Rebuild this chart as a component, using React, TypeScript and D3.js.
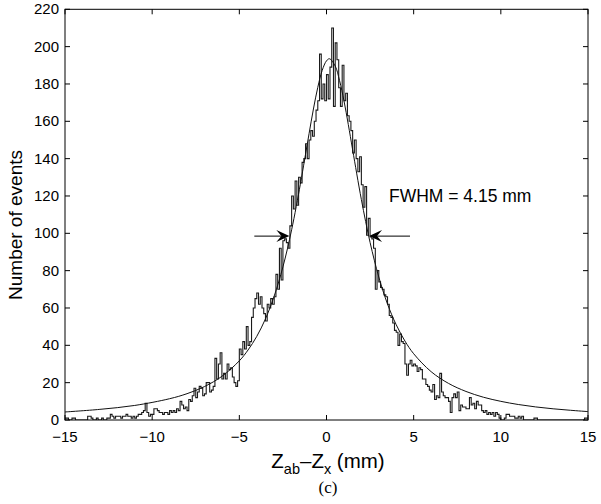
import React from "react";
import * as d3 from "d3";

// Histogram: 300 bins of 0.1 mm from -15 to 15 mm
const binStart = -15;
const binWidth = 0.1;
const counts: number[] = [
  // -15 .. -14
  1, 1, 0, 0, 1, 1, 0, 0, 0, 0,
  // -14 .. -13
  0, 0, 0, 2, 2, 1, 0, 0, 1, 0,
  // -13 .. -12
  0, 1, 0, 0, 1, 1, 3, 2, 1, 2,
  // -12 .. -11
  2, 2, 1, 2, 2, 3, 2, 2, 1, 2,
  // -11 .. -10
  1, 2, 3, 3, 4, 5, 9, 4, 2, 3,
  // -10 .. -9
  3, 6, 6, 5, 4, 4, 3, 4, 4, 3,
  // -9 .. -8
  5, 4, 5, 4, 6, 5, 10, 8, 6, 7,
  // -8 .. -7
  5, 11, 10, 13, 17, 12, 15, 18, 17, 13,
  // -7 .. -6
  14, 20, 20, 15, 16, 18, 33, 22, 30, 36,
  // -6 .. -5
  22, 25, 22, 30, 27, 28, 23, 20, 18, 21,
  // -5 .. -4
  38, 35, 42, 38, 50, 40, 42, 55, 60, 65,
  // -4 .. -3
  68, 62, 66, 60, 57, 53, 62, 60, 65, 62,
  // -3 .. -2
  66, 78, 70, 92, 75, 96, 97, 95, 92, 104,
  // -2 .. -1
  120, 113, 128, 115, 130, 127, 138, 140, 148, 140,
  // -1 .. 0
  150, 155, 152, 160, 166, 171, 196, 172, 180, 171,
  // 0 .. 1
  185, 172, 189, 210, 168, 202, 193, 178, 168, 190,
  // 1 .. 2
  171, 175, 163, 160, 155, 143, 150, 140, 133, 141,
  // 2 .. 3
  126, 114, 125, 99, 108, 98, 97, 92, 70, 80,
  // 3 .. 4
  74, 71, 70, 67, 66, 62, 56, 55, 52, 48,
  // 4 .. 5
  47, 40, 46, 42, 41, 30, 24, 30, 32, 29,
  // 5 .. 6
  30, 29, 26, 28, 27, 22, 22, 19, 18, 16,
  // 6 .. 7
  15, 19, 11, 13, 12, 25, 15, 13, 12, 12,
  // 7 .. 8
  10, 4, 12, 14, 12, 15, 5, 8, 7, 7,
  // 8 .. 9
  6, 6, 12, 8, 9, 6, 10, 8, 8, 5,
  // 9 .. 10
  4, 5, 3, 4, 3, 4, 2, 4, 3, 1,
  // 10 .. 11
  0, 0, 1, 3, 3, 2, 2, 2, 1, 1,
  // 11 .. 12
  2, 1, 2, 0, 0, 0, 0, 0, 0, 1,
  // 12 .. 13
  1, 0, 0, 0, 0, 0, 0, 0, 0, 0,
  // 13 .. 14
  0, 0, 0, 0, 0, 0, 0, 0, 0, 0,
  // 14 .. 15
  0, 0, 0, 0, 0, 0, 0, 0, 1, 1,
];

// Fitted curve
const fitX = [-15, -13, -11, -9, -8, -7, -6, -5, -4.5, -4, -3.5, -3, -2.5, -2, -1.5, -1.25, -1, -0.75, -0.5, -0.25, 0, 0.17, 0.5, 0.75, 1, 1.25, 1.5, 2, 2.5, 3, 3.5, 4, 4.5, 5, 6, 7, 8, 9, 10, 11, 12, 13, 14, 15];
const fitY = [4.3, 5.7, 7.8, 11.4, 14.1, 17.9, 23.4, 31.7, 37.5, 44.8, 54.2, 66.4, 82.0, 101.9, 126.3, 139.8, 153.4, 166.6, 178.2, 187.2, 192.4, 193.5, 189.6, 181.8, 171.1, 158.3, 144.7, 118.1, 95.1, 76.6, 62.1, 51.0, 42.3, 35.5, 25.9, 19.6, 15.3, 12.2, 10.0, 8.3, 7.0, 6.0, 5.2, 4.5];

// Axis ticks
const xTicks = [-15, -10, -5, 0, 5, 10, 15];
const yTicks = [0, 20, 40, 60, 80, 100, 120, 140, 160, 180, 200, 220];

// FWHM annotation
const fwhmLabel = "FWHM = 4.15 mm";
const arrowLevel = 98.5;
const leftArrow = [-4.14, -2.13]; // from, to
const rightArrow = [4.79, 2.44]; // from, to

const W = 601;
const H = 504;
const M = { left: 65, right: 588, top: 9.3, bottom: 420 };
const FONT = "'Liberation Sans', Arial, Helvetica, sans-serif";

export default function App() {
  const x = d3.scaleLinear().domain([-15, 15]).range([M.left, M.right]);
  const y = d3.scaleLinear().domain([0, 220]).range([M.bottom, M.top]);

  const stepPts: [number, number][] = counts.map((c, i) => [binStart + i * binWidth, c]);
  stepPts.push([binStart + counts.length * binWidth, counts[counts.length - 1]]);
  const histPath =
    d3
      .line<[number, number]>()
      .x((d) => x(d[0]))
      .y((d) => y(d[1]))
      .curve(d3.curveStepAfter)(stepPts) || "";

  const fitPts: [number, number][] = fitX.map((v, i) => [v, fitY[i]]);
  const fitPath =
    d3
      .line<[number, number]>()
      .x((d) => x(d[0]))
      .y((d) => y(d[1]))
      .curve(d3.curveCatmullRom)(fitPts) || "";

  const tick = 5;
  const arrowHead = (tipX: number, tipY: number, dir: number) => {
    const L = 13;
    const hw = 6;
    const notch = 8;
    return `M${tipX},${tipY} L${tipX - dir * L},${tipY - hw} L${tipX - dir * notch},${tipY} L${tipX - dir * L},${tipY + hw} Z`;
  };
  const ay = y(arrowLevel);

  return (
    <svg
      width={W}
      height={H}
      style={{ position: "absolute", left: 0, top: 0, background: "#fff" }}
    >
      <rect x={0} y={0} width={W} height={H} fill="#fff" />
      <defs>
        <clipPath id="plotclip">
          <rect x={M.left} y={M.top} width={M.right - M.left} height={M.bottom - M.top} />
        </clipPath>
      </defs>

      {/* histogram */}
      <path d={histPath} fill="none" stroke="#1a1a1a" strokeWidth={1.1} clipPath="url(#plotclip)" />
      {/* fit curve */}
      <path d={fitPath} fill="none" stroke="#111" strokeWidth={1} clipPath="url(#plotclip)" />

      {/* frame */}
      <rect
        x={M.left}
        y={M.top}
        width={M.right - M.left}
        height={M.bottom - M.top}
        fill="none"
        stroke="#000"
        strokeWidth={1}
      />

      {/* x ticks */}
      {xTicks.map((t) => (
        <g key={"xt" + t}>
          <line x1={x(t)} x2={x(t)} y1={M.bottom} y2={M.bottom - tick} stroke="#000" />
          <line x1={x(t)} x2={x(t)} y1={M.top} y2={M.top + tick} stroke="#000" />
          <text
            x={x(t)}
            y={442}
            textAnchor="middle"
            fontFamily={FONT}
            fontSize={15}
            fill="#000"
          >
            {t < 0 ? "\u2212" + Math.abs(t) : String(t)}
          </text>
        </g>
      ))}

      {/* y ticks */}
      {yTicks.map((t) => (
        <g key={"yt" + t}>
          <line x1={M.left} x2={M.left + tick} y1={y(t)} y2={y(t)} stroke="#000" />
          <line x1={M.right} x2={M.right - tick} y1={y(t)} y2={y(t)} stroke="#000" />
          <text
            x={59}
            y={y(t)}
            dy="0.34em"
            textAnchor="end"
            fontFamily={FONT}
            fontSize={15}
            fill="#000"
          >
            {String(t)}
          </text>
        </g>
      ))}

      {/* y label */}
      <text
        transform={`translate(22,225) rotate(-90)`}
        textAnchor="middle"
        fontFamily={FONT}
        fontSize={19}
        fill="#000"
      >
        Number of events
      </text>

      {/* x label */}
      <text x={328} y={468} textAnchor="middle" fontFamily={FONT} fontSize={20.5} fill="#000">
        <tspan>Z</tspan>
        <tspan fontSize={14.5} dy={6}>ab</tspan>
        <tspan dy={-6}>{"\u2013Z"}</tspan>
        <tspan fontSize={14.5} dy={6}>x</tspan>
        <tspan dy={-6}>{" (mm)"}</tspan>
      </text>

      {/* caption */}
      <text x={328} y={493} textAnchor="middle" fontFamily="'Liberation Serif', 'Times New Roman', serif" fontSize={17} fill="#000">
        (c)
      </text>

      {/* FWHM annotation */}
      <text x={389} y={202} fontFamily={FONT} fontSize={17.5} fill="#000">
        {fwhmLabel}
      </text>
      <line x1={x(leftArrow[0])} x2={x(leftArrow[1]) - 8} y1={ay} y2={ay} stroke="#000" strokeWidth={1} />
      <path d={arrowHead(x(leftArrow[1]), ay, 1)} fill="#000" />
      <line x1={x(rightArrow[0])} x2={x(rightArrow[1]) + 8} y1={ay} y2={ay} stroke="#000" strokeWidth={1} />
      <path d={arrowHead(x(rightArrow[1]), ay, -1)} fill="#000" />
    </svg>
  );
}
